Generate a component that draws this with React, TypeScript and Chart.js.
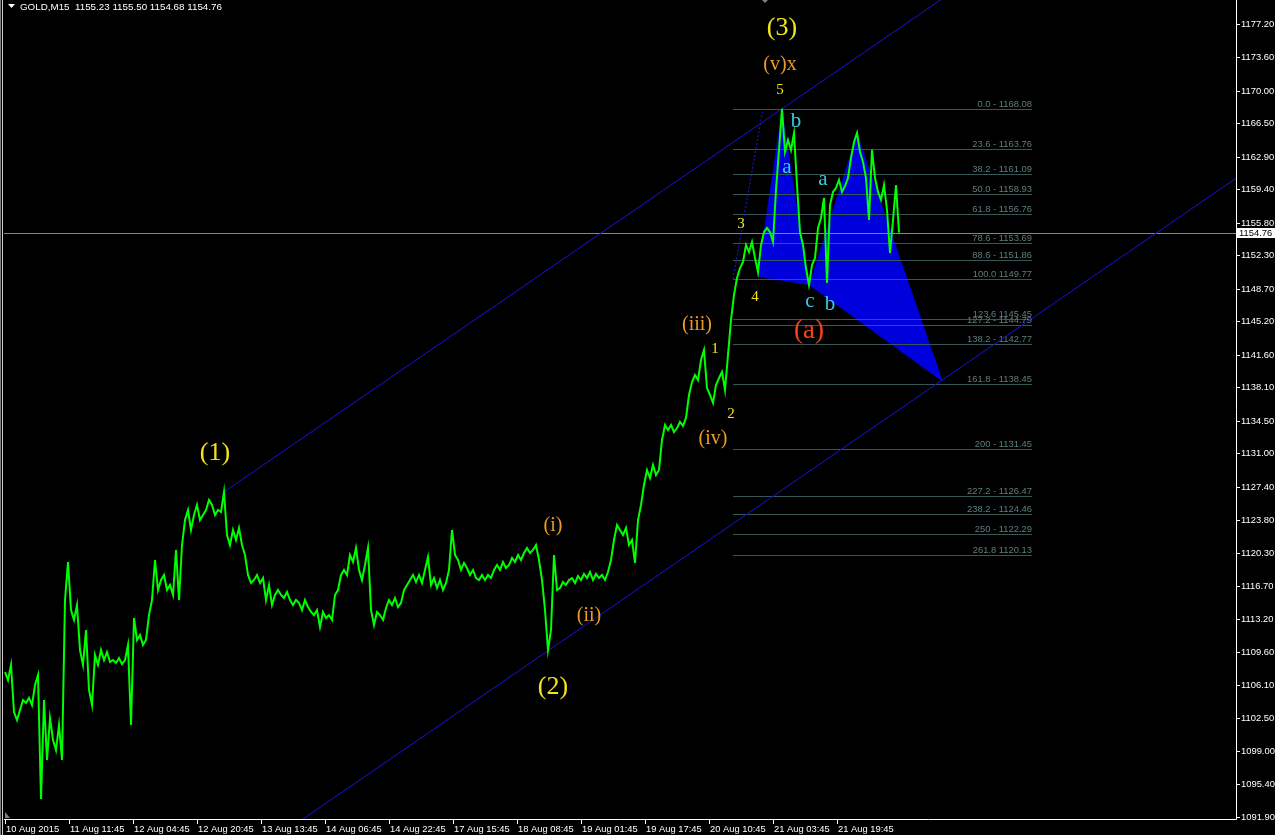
import React, { useEffect, useRef } from 'react';
import { Chart, registerables } from 'chart.js';

Chart.register(...registerables);

// ---------- data ----------
const headerText = 'GOLD,M15  1155.23 1155.50 1154.68 1154.76';
const lastPrice = 1154.76;

const xTickLabels = [
  '10 Aug 2015', '11 Aug 11:45', '12 Aug 04:45', '12 Aug 20:45', '13 Aug 13:45',
  '14 Aug 06:45', '14 Aug 22:45', '17 Aug 15:45', '18 Aug 08:45', '19 Aug 01:45',
  '19 Aug 17:45', '20 Aug 10:45', '21 Aug 03:45', '21 Aug 19:45',
];
const unitsPerLabel = 64; // x units between time labels
const unitsPerPoint = 3; // x units between plotted closes

const yTickValues = [
  1177.2, 1173.6, 1170.0, 1166.5, 1162.9, 1159.4, 1155.8, 1152.3, 1148.7, 1145.2,
  1141.6, 1138.1, 1134.5, 1131.0, 1127.4, 1123.8, 1120.3, 1116.7, 1113.2, 1109.6,
  1106.1, 1102.5, 1099.0, 1095.4, 1091.9,
];
const yMin = 1091.68;
const yMax = 1179.78;
const xMin = -1;
const xMax = 1231;

const closes = [
  1107.49, 1106.63, 1108.25, 1103.19, 1102.33, 1103.41, 1104.48, 1104.16, 1104.70, 1103.94,
  1106.09, 1107.17, 1093.83, 1104.48, 1098.03, 1102.54, 1100.18, 1099.10, 1101.79, 1098.03,
  1115.24, 1119.33, 1114.16, 1113.09, 1114.70, 1109.86, 1108.25, 1112.01, 1105.56, 1103.94,
  1109.32, 1108.25, 1109.86, 1108.78, 1109.64, 1108.57, 1108.78, 1108.46, 1109.00, 1108.35,
  1108.78, 1110.40, 1101.79, 1113.30, 1110.94, 1111.47, 1110.40, 1110.94, 1113.62, 1115.24,
  1119.54, 1116.31, 1117.39, 1117.93, 1116.31, 1116.85, 1115.78, 1120.62, 1115.24, 1121.15,
  1123.84, 1124.92, 1122.77, 1124.38, 1125.46, 1123.84, 1124.38, 1124.92, 1125.99, 1125.46,
  1124.38, 1124.92, 1124.70, 1126.86, 1122.23, 1121.15, 1122.77, 1121.69, 1122.98, 1121.15,
  1120.08, 1117.93, 1117.07, 1117.39, 1117.93, 1117.07, 1117.60, 1115.24, 1116.85, 1114.70,
  1115.78, 1116.31, 1115.78, 1115.45, 1116.10, 1115.24, 1114.70, 1115.24, 1114.92, 1114.16,
  1115.24, 1114.48, 1113.95, 1113.62, 1114.16, 1112.33, 1113.95, 1113.30, 1113.62, 1113.09,
  1115.78, 1116.31, 1117.93, 1118.47, 1117.93, 1120.08, 1119.33, 1120.83, 1118.47, 1117.39,
  1119.00, 1120.83, 1114.16, 1112.55, 1113.95, 1113.62, 1113.09, 1114.38, 1115.24, 1114.70,
  1115.45, 1114.48, 1114.92, 1116.31, 1116.85, 1117.39, 1117.93, 1117.17, 1117.93, 1117.07,
  1118.47, 1119.86, 1116.85, 1117.60, 1116.53, 1117.39, 1116.31, 1117.07, 1118.47, 1122.77,
  1120.08, 1119.54, 1118.47, 1119.22, 1118.68, 1117.93, 1118.47, 1117.60, 1117.39, 1117.93,
  1117.39, 1117.93, 1117.60, 1118.47, 1119.00, 1118.47, 1119.33, 1118.68, 1119.00, 1119.76,
  1119.33, 1120.08, 1119.54, 1120.29, 1120.83, 1120.29, 1120.62, 1121.15, 1119.54, 1117.39,
  1114.16, 1109.86, 1112.01, 1120.08, 1116.31, 1116.53, 1117.17, 1116.85, 1117.39, 1117.60,
  1117.07, 1117.82, 1117.39, 1118.04, 1117.60, 1118.25, 1117.39, 1118.04, 1117.60, 1117.93,
  1117.39, 1118.25, 1119.54, 1121.69, 1123.31, 1122.77, 1122.23, 1122.98, 1121.15, 1121.69,
  1119.22, 1123.84, 1125.46, 1127.61, 1129.22, 1128.36, 1129.76, 1128.68, 1129.22, 1132.45,
  1134.06, 1133.52, 1134.06, 1133.31, 1133.74, 1134.39, 1133.96, 1134.82, 1137.29, 1138.69,
  1139.44, 1138.90, 1141.05, 1142.13, 1138.04, 1137.29, 1136.43, 1138.37, 1139.12, 1139.76,
  1137.83, 1141.59, 1145.36, 1148.05, 1149.88, 1150.95, 1151.60, 1153.43, 1152.67, 1153.75,
  1152.03, 1150.52, 1153.43, 1154.82, 1155.25, 1154.82, 1153.75, 1159.34, 1163.64, 1168.08,
  1163.43, 1164.72, 1163.64, 1165.47, 1159.88, 1154.82, 1153.43, 1150.95, 1149.12, 1151.27,
  1152.03, 1155.25, 1156.33, 1158.48, 1149.34, 1157.73, 1159.13, 1159.56, 1160.42, 1159.13,
  1159.77, 1160.63, 1162.78, 1164.51, 1165.47, 1163.43, 1162.35, 1160.63, 1156.11, 1163.64,
  1160.63, 1159.13, 1158.27, 1159.88, 1157.19, 1152.56, 1156.11, 1159.88, 1154.76,
];

// Fibonacci tool
const fibAnchorX = [728, 758];
const fibAnchorPrice = [1149.77, 1168.08];
const fibEndX = 1027;
const fibPrices = [
  1168.08, 1163.76, 1161.09, 1158.93, 1156.76, 1153.69, 1151.86, 1149.77, 1145.45,
  1144.79, 1142.77, 1138.45, 1131.45, 1126.47, 1124.46, 1122.29, 1120.13,
];
const fibLabels = [
  '0.0 - 1168.08', '23.6 - 1163.76', '38.2 - 1161.09', '50.0 - 1158.93', '61.8 - 1156.76',
  '78.6 - 1153.69', '88.6 - 1151.86', '100.0 1149.77', '123.6 1145.45', '127.2 - 1144.79',
  '138.2 - 1142.77', '161.8 - 1138.45', '200 - 1131.45', '227.2 - 1126.47', '238.2 - 1124.46',
  '250 - 1122.29', '261.8 1120.13',
];

// Equidistant channel
const channelX = [219, 777];
const channelPrice = [1126.86, 1168.08];
const channelLowX = 543;
const channelLowPrice = 1109.78;

// Harmonic pattern X A B C D
const patternX = [752, 777, 804, 852, 938];
const patternPrice = [1150.0, 1168.08, 1149.12, 1165.47, 1138.7];

// Wave labels
const waveText = ['(3)', '(v)x', '5', 'b', 'a', 'a', '3', '4', 'c', 'b', '(a)', '(iii)', '1', '2', '(iv)', '(1)', '(i)', '(ii)', '(2)'];
const waveX = [777, 775, 775, 791, 782, 818, 736, 750, 805, 825, 804, 692, 710, 726, 708, 210, 548, 584, 548];
const wavePrice = [1176.77, 1172.79, 1170.1, 1166.76, 1161.71, 1160.52, 1155.68, 1147.83, 1147.4, 1147.08, 1144.17, 1144.82, 1142.24, 1135.25, 1132.56, 1131.05, 1123.2, 1113.5, 1105.88];
const waveDegree = ['major', 'inter', 'minor', 'sub', 'sub', 'sub', 'minor', 'minor', 'sub', 'sub', 'red', 'inter', 'minor', 'minor', 'inter', 'major', 'inter', 'inter', 'major'];

// ---------- styles ----------
const degreeStyle: Record<string, { color: string; size: number }> = {
  major: { color: '#f2e41c', size: 26 },
  inter: { color: '#ee9a22', size: 20 },
  minor: { color: '#f2e41c', size: 15 },
  sub: { color: '#36cde6', size: 21 },
  red: { color: '#f2441a', size: 27 },
};
const AXIS_FONT = '9.4px "Liberation Sans", Arial, sans-serif';

const mt4Plugin = {
  id: 'mt4Overlay',
  beforeDraw(chart: any) {
    const { ctx, width, height } = chart;
    ctx.save();
    ctx.fillStyle = '#000000';
    ctx.fillRect(0, 0, width, height);
    ctx.restore();
  },
  beforeDatasetsDraw(chart: any) {
    const { ctx, chartArea: a, scales } = chart;
    const X = (v: number) => scales.x.getPixelForValue(v);
    const Y = (v: number) => scales.y.getPixelForValue(v);
    ctx.save();
    ctx.beginPath();
    ctx.rect(a.left, a.top, a.right - a.left, a.bottom - a.top);
    ctx.clip();

    // pattern triangles
    ctx.fillStyle = '#0000dc';
    [[0, 1, 2], [2, 3, 4]].forEach((tri) => {
      ctx.beginPath();
      tri.forEach((k, j) => {
        const px = X(patternX[k]);
        const py = Y(patternPrice[k]);
        if (j === 0) ctx.moveTo(px, py);
        else ctx.lineTo(px, py);
      });
      ctx.closePath();
      ctx.fill();
    });

    // current price line
    const ly = Math.round(Y(lastPrice)) + 0.5;
    ctx.strokeStyle = '#778899';
    ctx.lineWidth = 1;
    ctx.beginPath();
    ctx.moveTo(a.left, ly);
    ctx.lineTo(a.right, ly);
    ctx.stroke();

    // fib levels
    const fx0 = Math.round(X(Math.min(...fibAnchorX)));
    const fx1 = Math.round(X(fibEndX));
    ctx.strokeStyle = '#365656';
    fibPrices.forEach((p) => {
      const py = Math.round(Y(p)) + 0.5;
      ctx.beginPath();
      ctx.moveTo(fx0, py);
      ctx.lineTo(fx1, py);
      ctx.stroke();
    });
    ctx.fillStyle = '#5e7e7e';
    ctx.font = AXIS_FONT;
    ctx.textAlign = 'right';
    ctx.textBaseline = 'alphabetic';
    fibPrices.forEach((p, k) => {
      ctx.fillText(fibLabels[k], fx1, Math.round(Y(p)) - 2);
    });

    // fib trend line (dotted)
    ctx.strokeStyle = '#1a1ae6';
    ctx.setLineDash([2, 2]);
    ctx.beginPath();
    ctx.moveTo(X(fibAnchorX[0]), Y(fibAnchorPrice[0]));
    ctx.lineTo(X(fibAnchorX[1]), Y(fibAnchorPrice[1]));
    ctx.stroke();
    ctx.setLineDash([]);

    // channel
    const slope = (channelPrice[1] - channelPrice[0]) / (channelX[1] - channelX[0]);
    const xEnd = scales.x.max;
    ctx.strokeStyle = '#1414e0';
    ctx.beginPath();
    ctx.moveTo(X(channelX[0]), Y(channelPrice[0]));
    ctx.lineTo(X(xEnd), Y(channelPrice[0] + slope * (xEnd - channelX[0])));
    ctx.stroke();
    ctx.beginPath();
    ctx.moveTo(X(channelX[0]), Y(channelLowPrice + slope * (channelX[0] - channelLowX)));
    ctx.lineTo(X(xEnd), Y(channelLowPrice + slope * (xEnd - channelLowX)));
    ctx.stroke();

    ctx.restore();
  },
  afterDatasetsDraw(chart: any) {
    const { ctx, chartArea: a, scales, width, height } = chart;
    const X = (v: number) => scales.x.getPixelForValue(v);
    const Y = (v: number) => scales.y.getPixelForValue(v);
    ctx.save();

    // wave labels
    ctx.textAlign = 'center';
    ctx.textBaseline = 'middle';
    waveText.forEach((t, k) => {
      const st = degreeStyle[waveDegree[k]];
      ctx.fillStyle = st.color;
      ctx.font = `${st.size}px "Liberation Serif", "Times New Roman", serif`;
      ctx.fillText(t, X(waveX[k]), Y(wavePrice[k]));
    });

    // frame
    ctx.fillStyle = '#808080';
    ctx.fillRect(0, 0, 1, height);
    ctx.fillStyle = '#d4d0c8';
    ctx.fillRect(2, 0, 1, height);
    ctx.strokeStyle = '#ffffff';
    ctx.lineWidth = 1;
    ctx.beginPath();
    ctx.moveTo(Math.round(a.right) + 0.5, 0);
    ctx.lineTo(Math.round(a.right) + 0.5, Math.round(a.bottom) + 0.5);
    ctx.lineTo(a.left, Math.round(a.bottom) + 0.5);
    ctx.stroke();

    // y axis
    ctx.font = AXIS_FONT;
    ctx.fillStyle = '#ffffff';
    ctx.textAlign = 'left';
    ctx.textBaseline = 'middle';
    yTickValues.forEach((v) => {
      const py = Math.round(Y(v)) + 0.5;
      ctx.beginPath();
      ctx.moveTo(a.right, py);
      ctx.lineTo(a.right + 4, py);
      ctx.stroke();
      ctx.fillText(v.toFixed(2), a.right + 5, py);
    });

    // x axis
    ctx.textBaseline = 'alphabetic';
    xTickLabels.forEach((lbl, k) => {
      const px = Math.round(X(k * unitsPerLabel)) + 0.5;
      ctx.beginPath();
      ctx.moveTo(px, a.bottom);
      ctx.lineTo(px, a.bottom + 5);
      ctx.stroke();
      ctx.fillText(lbl, px + 0.5, a.bottom + 13);
    });

    // current price box
    const ly = Math.round(Y(lastPrice));
    ctx.fillStyle = '#ffffff';
    ctx.fillRect(a.right + 1, ly - 5, width - a.right - 1, 10);
    ctx.fillStyle = '#000000';
    ctx.textBaseline = 'middle';
    ctx.fillText(lastPrice.toFixed(2), a.right + 3, ly + 0.5);

    // header
    ctx.fillStyle = '#ffffff';
    ctx.beginPath();
    ctx.moveTo(8, 4);
    ctx.lineTo(15, 4);
    ctx.lineTo(11.5, 8);
    ctx.closePath();
    ctx.fill();
    ctx.textBaseline = 'alphabetic';
    ctx.font = '9.8px "Liberation Sans", Arial, sans-serif';
    ctx.fillText(headerText, 20, 10);

    // small markers
    ctx.fillStyle = '#808080';
    ctx.beginPath();
    ctx.moveTo(762, 0);
    ctx.lineTo(768, 0);
    ctx.lineTo(765, 3);
    ctx.closePath();
    ctx.fill();
    ctx.beginPath();
    ctx.moveTo(5, 812);
    ctx.lineTo(5, 818);
    ctx.lineTo(10, 818);
    ctx.closePath();
    ctx.fill();

    ctx.restore();
  },
};

export default function App() {
  const canvasRef = useRef<HTMLCanvasElement>(null);

  useEffect(() => {
    document.body.style.margin = '0';
    document.body.style.background = '#000';
    const canvas = canvasRef.current;
    if (!canvas) return;
    const chart = new Chart(canvas, {
      type: 'line',
      data: {
        datasets: [
          {
            data: closes.map((c, i) => ({ x: i * unitsPerPoint, y: c })),
            borderColor: '#00ff00',
            borderWidth: 2,
            pointRadius: 0,
            tension: 0,
            fill: false,
          },
        ],
      },
      options: {
        animation: false,
        responsive: false,
        maintainAspectRatio: false,
        events: [],
        layout: { padding: { left: 4, right: 39, top: 0, bottom: 16 } },
        scales: {
          x: { type: 'linear', display: false, min: xMin, max: xMax },
          y: { type: 'linear', display: false, min: yMin, max: yMax },
        },
        plugins: {
          legend: { display: false },
          tooltip: { enabled: false },
        },
      },
      plugins: [mt4Plugin],
    });
    return () => chart.destroy();
  }, []);

  return (
    <div style={{ position: 'absolute', left: 0, top: 0, width: 1275, height: 835, background: '#000' }}>
      <canvas ref={canvasRef} width={1275} height={835} style={{ display: 'block', width: 1275, height: 835 }} />
    </div>
  );
}
